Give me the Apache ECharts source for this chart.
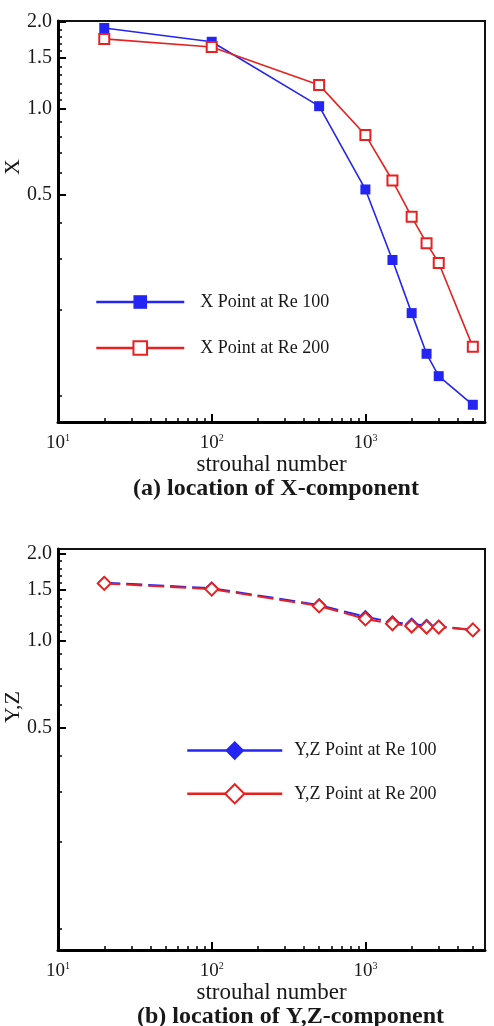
<!DOCTYPE html>
<html><head><meta charset="utf-8">
<script src="https://cdn.jsdelivr.net/npm/echarts@6/dist/echarts.min.js"></script>
<style>html,body{margin:0;padding:0;background:#fff}#c{width:494px;height:1026px}</style>
</head><body><div id="c"></div>
<script>
// ---- data (raw values) ----
const strouhal = [20, 100, 500, 1000, 1500, 2000, 2500, 3000, 5000];
const xRe100 = [1.91, 1.71, 1.02, 0.523, 0.297, 0.194, 0.140, 0.117, 0.093];
const xRe200 = [1.75, 1.64, 1.21, 0.81, 0.562, 0.42, 0.34, 0.29, 0.148];
const yzRe100 = [1.59, 1.52, 1.33, 1.21, 1.16, 1.14, 1.13, 1.12, 1.09];
const yzRe200 = [1.58, 1.51, 1.32, 1.19, 1.145, 1.124, 1.115, 1.115, 1.09];
const xMajorTicks = [10, 100, 1000];
const xMinorTicks = [20, 30, 40, 50, 60, 70, 80, 90, 200, 300, 400, 500, 600, 700, 800, 900, 2000, 3000, 4000, 5000];
const yLabelTicks = [0.5, 1.0, 1.5, 2.0];
const yMinorTicks = [0.1, 0.2, 0.3, 0.4, 0.6, 0.7, 0.8, 0.9, 1.07, 1.14, 1.22, 1.31, 1.40, 1.59, 1.68, 1.78, 1.89];
const names = ['X Point at Re 100', 'X Point at Re 200', 'Y,Z Point at Re 100', 'Y,Z Point at Re 200'];

const L = Math.log10;
const FONT = '"Liberation Serif", "Times New Roman", serif';
const TXT = '#181818';
const BLUE = '#2424f5';
const RED = '#e82020';

const xRange = [L(10), L(6000)];
const yRanges = [[L(0.081), L(2.02)], [L(0.0845), L(2.08)]];

function pairs(xs, ys) { return xs.map((x, i) => [L(x), L(ys[i])]); }

const xAxes = [], yAxes = [];
[0, 1].forEach(g => {
  xAxes.push({
    gridIndex: g, type: 'value', min: xRange[0], max: xRange[1], position: 'bottom',
    axisLine: { show: true, onZero: false, lineStyle: { color: '#000', width: 3 } },
    axisTick: { show: true, inside: true, length: 8, customValues: xMajorTicks.map(L), lineStyle: { color: '#000', width: 2 } },
    axisLabel: {
      customValues: xMajorTicks.map(L), margin: 11,
      formatter: v => '{b|10}{s|' + Math.round(v) + '}',
      rich: {
        b: { fontFamily: FONT, fontSize: 19, color: TXT, lineHeight: 20 },
        s: { fontFamily: FONT, fontSize: 10, color: TXT, verticalAlign: 'top', lineHeight: 11 }
      }
    },
    splitLine: { show: false },
    name: 'strouhal number', nameLocation: 'middle', nameGap: 30,
    nameTextStyle: { fontFamily: FONT, fontSize: 23, color: TXT }
  });
  xAxes.push({
    gridIndex: g, type: 'value', min: xRange[0], max: xRange[1], position: 'bottom',
    axisLine: { show: false, onZero: false },
    axisTick: { show: true, inside: true, length: 4, customValues: xMinorTicks.map(L), lineStyle: { color: '#000', width: 1.5 } },
    axisLabel: { show: false }, splitLine: { show: false }
  });
  yAxes.push({
    gridIndex: g, type: 'value', min: yRanges[g][0], max: yRanges[g][1], position: 'left',
    axisLine: { show: true, onZero: false, lineStyle: { color: '#000', width: 3 } },
    axisTick: { show: true, inside: true, length: 8, customValues: yLabelTicks.map(L), lineStyle: { color: '#000', width: 2 } },
    axisLabel: {
      customValues: yLabelTicks.map(L), margin: 6,
      formatter: v => Math.pow(10, v).toFixed(1),
      fontFamily: FONT, fontSize: 20, color: TXT
    },
    splitLine: { show: false }
  });
  yAxes.push({
    gridIndex: g, type: 'value', min: yRanges[g][0], max: yRanges[g][1], position: 'left',
    axisLine: { show: false, onZero: false },
    axisTick: { show: true, inside: true, length: 4, customValues: yMinorTicks.map(L), lineStyle: { color: '#000', width: 1.5 } },
    axisLabel: { show: false }, splitLine: { show: false }
  });
});

const option = {
  animation: false,
  backgroundColor: '#fff',
  grid: [
    { left: 58, top: 21, width: 427, height: 401, show: true, borderColor: '#111', borderWidth: 2 },
    { left: 58, top: 549, width: 427, height: 401, show: true, borderColor: '#111', borderWidth: 2 }
  ],
  xAxis: xAxes,
  yAxis: yAxes,
  legend: [
    {
      data: [names[0], names[1]], orient: 'vertical', left: 95, top: 293, padding: 0,
      itemWidth: 88, itemHeight: 17, itemGap: 28, selectedMode: false,
      lineStyle: { width: 2.5 },
      textStyle: { fontFamily: FONT, fontSize: 18, color: TXT, padding: [0, 0, 0, 11] }
    },
    {
      data: [names[2], names[3]], orient: 'vertical', left: 186, top: 741, padding: 0,
      itemWidth: 95, itemHeight: 24, itemGap: 23, selectedMode: false,
      lineStyle: { width: 2.5, type: 'solid' },
      textStyle: { fontFamily: FONT, fontSize: 18, color: TXT, padding: [0, 0, 0, 7] }
    }
  ],
  graphic: [
    { type: 'text', x: 13, y: 167, rotation: Math.PI / 2,
      style: { text: 'X', fontFamily: FONT, fontSize: 22, fill: TXT, align: 'center', verticalAlign: 'middle' } },
    { type: 'text', x: 13, y: 707, rotation: Math.PI / 2,
      style: { text: 'Y,Z', fontFamily: FONT, fontSize: 22, fill: TXT, align: 'center', verticalAlign: 'middle' } },
    { type: 'text', x: 133, y: 489,
      style: { text: '(a) location of X-component', fontFamily: FONT, fontWeight: 'bold', fontSize: 24, fill: TXT, align: 'left', verticalAlign: 'middle' } },
    { type: 'text', x: 137, y: 1017,
      style: { text: '(b) location of Y,Z-component', fontFamily: FONT, fontWeight: 'bold', fontSize: 24, fill: TXT, align: 'left', verticalAlign: 'middle' } }
  ],
  series: [
    { name: names[0], type: 'line', xAxisIndex: 0, yAxisIndex: 0, data: pairs(strouhal, xRe100),
      symbol: 'rect', symbolSize: 10, color: BLUE,
      lineStyle: { color: BLUE, width: 1.6 }, itemStyle: { color: BLUE } },
    { name: names[1], type: 'line', xAxisIndex: 0, yAxisIndex: 0, data: pairs(strouhal, xRe200),
      symbol: 'emptyRect', symbolSize: 10, color: RED,
      lineStyle: { color: RED, width: 1.6 }, itemStyle: { color: RED, borderColor: RED, borderWidth: 2 } },
    { name: names[2], type: 'line', xAxisIndex: 2, yAxisIndex: 2, data: pairs(strouhal, yzRe100),
      symbol: 'diamond', symbolSize: 14, color: BLUE,
      lineStyle: { color: BLUE, width: 2, type: [16, 6] }, itemStyle: { color: BLUE } },
    { name: names[3], type: 'line', xAxisIndex: 2, yAxisIndex: 2, data: pairs(strouhal, yzRe200),
      symbol: 'emptyDiamond', symbolSize: 13, color: RED,
      lineStyle: { color: RED, width: 2, type: [16, 6] }, itemStyle: { color: RED, borderColor: RED, borderWidth: 2 } }
  ]
};
echarts.init(document.getElementById('c'), null, { renderer: 'canvas' }).setOption(option);
</script></body></html>
